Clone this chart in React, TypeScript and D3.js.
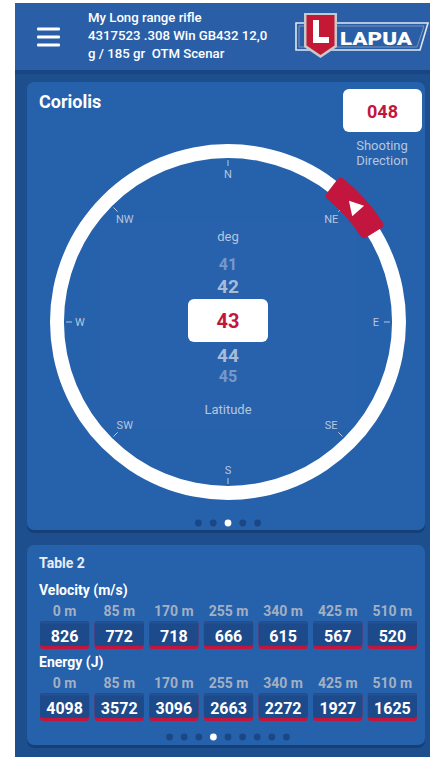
import { useEffect, useRef } from "react";
import * as d3 from "d3";

const rifleLines = ["My Long range rifle", "4317523 .308 Win GB432 12,0", "g / 185 gr  OTM Scenar"];
const compassPoints = ["N", "NE", "E", "SE", "S", "SW", "W", "NW"];
const compassBearings = [0, 45, 90, 135, 180, 225, 270, 315];
const shootingDirection = 48;
const latitudeValues = [41, 42, 43, 44, 45];
const selectedLatitude = 43;
const distances = ["0 m", "85 m", "170 m", "255 m", "340 m", "425 m", "510 m"];
const velocity = [826, 772, 718, 666, 615, 567, 520];
const energy = [4098, 3572, 3096, 2663, 2272, 1927, 1625];
const compassPageCount = 5;
const tablePageCount = 9;

const FONT = "Roboto, 'Noto Sans', sans-serif";
const screenBlue = "#1d4f8f";
const headerBlue = "#2a5fa8";
const cardBlue = "#2661ac";
const cellBlue = "#1d4a8a";
const red = "#c3163e";
const pale = "#b6c6dd";

export default function App() {
    const ref = useRef<SVGSVGElement>(null);

    useEffect(() => {
        const svg = d3.select(ref.current);
        svg.selectAll("*").remove();

        // screen + header
        svg.append("rect").attr("x", 15).attr("y", 3).attr("width", 415).attr("height", 754).attr("fill", screenBlue);
        svg.append("rect").attr("x", 15).attr("y", 70).attr("width", 415).attr("height", 4).attr("fill", "#184683");
        svg.append("rect").attr("x", 15).attr("y", 3).attr("width", 415).attr("height", 67).attr("fill", headerBlue);

        [29, 37, 45].forEach(y => {
            svg.append("rect").attr("x", 37).attr("y", y - 1.5).attr("width", 23).attr("height", 3)
                .attr("rx", 1).attr("fill", "#fff");
        });

        svg.append("g").selectAll("text").data(rifleLines).join("text")
            .attr("x", 88).attr("y", (d, i) => 22 + i * 18)
            .attr("fill", "#fff").attr("font-family", FONT).attr("font-size", 13.2).attr("font-weight", 500)
            .style("white-space", "pre")
            .text(d => d);

        // logo
        const logo = svg.append("g");
        logo.append("path").attr("d", "M296,23 L428,23 L420,50 L296,50 Z")
            .attr("fill", "none").attr("stroke", "#dfe6ef").attr("stroke-width", 1.6);
        logo.append("path").attr("d", "M299,26 L424,26 L417,47 L299,47 Z")
            .attr("fill", "none").attr("stroke", "#8ea3bf").attr("stroke-width", 0.8);
        logo.append("path").attr("d", "M304,13 L337,13 L337,47 L320.5,58 L304,47 Z")
            .attr("fill", "#c7c9cc");
        logo.append("path").attr("d", "M306.5,15 L334.5,15 L334.5,45.5 L320.5,55 L306.5,45.5 Z")
            .attr("fill", "#c41935");
        logo.append("path").attr("d", "M313,20 L319,20 L319,37 L329,37 L329,43 L313,43 Z").attr("fill", "#fff");
        logo.append("text").attr("x", 340).attr("y", 44.5)
            .attr("textLength", 72).attr("lengthAdjust", "spacingAndGlyphs")
            .attr("fill", "#fff").attr("font-family", FONT).attr("font-size", 19).attr("font-weight", 900)
            .text("LAPUA");

        // cards
        const cards = [{ y: 82, h: 448 }, { y: 545, h: 200 }];
        cards.forEach(c => {
            svg.append("rect").attr("x", 27).attr("y", c.y + 2).attr("width", 398).attr("height", c.h + 1)
                .attr("rx", 7).attr("fill", "#173f77");
            svg.append("rect").attr("x", 27).attr("y", c.y).attr("width", 398).attr("height", c.h)
                .attr("rx", 7).attr("fill", cardBlue);
        });

        // Coriolis card header
        svg.append("text").attr("x", 39).attr("y", 108).attr("fill", "#fff")
            .attr("font-family", FONT).attr("font-size", 18).attr("font-weight", 700).text("Coriolis");

        svg.append("rect").attr("x", 343).attr("y", 89).attr("width", 79).attr("height", 43).attr("rx", 6).attr("fill", "#fff");
        svg.append("text").attr("x", 382.5).attr("y", 117.5).attr("text-anchor", "middle").attr("fill", red)
            .attr("font-family", FONT).attr("font-size", 18).attr("font-weight", 700)
            .text(d3.format("03d")(shootingDirection));
        ["Shooting", "Direction"].forEach((t, i) => {
            svg.append("text").attr("x", 382).attr("y", 150 + i * 15).attr("text-anchor", "middle")
                .attr("fill", pale).attr("font-family", FONT).attr("font-size", 13).text(t);
        });

        // compass
        const cx = 228, cy = 322;
        const angle = d3.scaleLinear().domain([0, 360]).range([0, 2 * Math.PI]);
        const polar = (deg: number, r: number): [number, number] =>
            [cx + r * Math.sin(angle(deg)), cy - r * Math.cos(angle(deg))];
        const compass = svg.append("g");

        compass.append("rect").attr("x", 100).attr("y", 222).attr("width", 256).attr("height", 206)
            .attr("fill", "#2862ad");

        compass.append("path").attr("transform", `translate(${cx},${cy})`)
            .attr("d", d3.arc()({ innerRadius: 164, outerRadius: 178, startAngle: 0, endAngle: 2 * Math.PI }) as string)
            .attr("fill", "#fff");

        compassBearings.forEach((b, i) => {
            const [x1, y1] = polar(b, 156);
            const [x2, y2] = polar(b, 162);
            compass.append("line").attr("x1", x1).attr("y1", y1).attr("x2", x2).attr("y2", y2)
                .attr("stroke", pale).attr("stroke-width", 1);
            const [lx, ly] = polar(b, b % 90 === 0 ? 148 : 146);
            compass.append("text").attr("x", lx).attr("y", ly).attr("dy", "0.36em")
                .attr("text-anchor", "middle").attr("fill", pale)
                .attr("font-family", FONT).attr("font-size", 11).text(compassPoints[i]);
        });

        compass.append("path").attr("transform", `translate(${cx},${cy})`)
            .attr("d", d3.arc().cornerRadius(4)({
                innerRadius: 158, outerRadius: 184,
                startAngle: angle(shootingDirection - 10.5), endAngle: angle(shootingDirection + 10.5)
            }) as string)
            .attr("fill", red);
        const [mx, my] = polar(shootingDirection, 171);
        compass.append("path")
            .attr("transform", `translate(${mx},${my}) rotate(78)`)
            .attr("d", d3.symbol(d3.symbolTriangle, 110)() as string)
            .attr("fill", "#fff");

        // latitude picker
        compass.append("text").attr("x", cx).attr("y", 241).attr("text-anchor", "middle").attr("fill", pale)
            .attr("font-family", FONT).attr("font-size", 13).text("deg");
        const offset = d3.scaleLinear().domain([-2, -1, 0, 1, 2]).range([-56, -34, 0, 35, 56]);
        latitudeValues.forEach(v => {
            const d = v - selectedLatitude;
            if (d === 0) return;
            compass.append("text").attr("x", cx).attr("y", 320 + offset(d)).attr("dy", "0.36em")
                .attr("text-anchor", "middle").attr("fill", pale)
                .attr("opacity", Math.abs(d) === 1 ? 0.9 : 0.55)
                .attr("font-family", FONT).attr("font-weight", 700)
                .attr("font-size", Math.abs(d) === 1 ? 19 : 16)
                .text(v);
        });
        compass.append("rect").attr("x", 188).attr("y", 299).attr("width", 80).attr("height", 43)
            .attr("rx", 6).attr("fill", "#fff");
        compass.append("text").attr("x", cx).attr("y", 320.5).attr("dy", "0.36em").attr("text-anchor", "middle")
            .attr("fill", red).attr("font-family", FONT).attr("font-weight", 700).attr("font-size", 20)
            .text(selectedLatitude);
        compass.append("text").attr("x", cx).attr("y", 414).attr("text-anchor", "middle").attr("fill", pale)
            .attr("font-family", FONT).attr("font-size", 13).text("Latitude");

        // page dots
        const drawDots = (count: number, active: number, y: number, step: number) => {
            const x = d3.scaleLinear().domain([0, count - 1]).range([228 - step * (count - 1) / 2, 228 + step * (count - 1) / 2]);
            svg.append("g").selectAll("circle").data(d3.range(count)).join("circle")
                .attr("cx", d => x(d)).attr("cy", y).attr("r", 3.4)
                .attr("fill", d => d === active ? "#fff" : "#1b4785");
        };
        drawDots(compassPageCount, 2, 523, 14.8);
        drawDots(tablePageCount, 3, 737, 14.6);

        // table card
        svg.append("text").attr("x", 39).attr("y", 568).attr("fill", "#e8eef6")
            .attr("font-family", FONT).attr("font-size", 14).attr("font-weight", 700).text("Table 2");

        const xBand = d3.scaleBand().domain(distances).range([40, 417]).paddingInner(0.1).paddingOuter(0);
        const rows = [
            { title: "Velocity (m/s)", values: velocity, top: 595 },
            { title: "Energy (J)", values: energy, top: 667 },
        ];
        rows.forEach(row => {
            const g = svg.append("g");
            g.append("text").attr("x", 39).attr("y", row.top).attr("fill", "#fff")
                .attr("font-family", FONT).attr("font-size", 14).attr("font-weight", 700).text(row.title);
            distances.forEach((dist, i) => {
                const x = xBand(dist) as number;
                const w = xBand.bandwidth();
                g.append("text").attr("x", x + w / 2).attr("y", row.top + 20.5).attr("text-anchor", "middle")
                    .attr("fill", "#a3b0c2").attr("font-family", FONT).attr("font-size", 14).attr("font-weight", 700)
                    .text(dist);
                g.append("rect").attr("x", x).attr("y", row.top + 26).attr("width", w).attr("height", 28)
                    .attr("rx", 3).attr("fill", red);
                g.append("rect").attr("x", x).attr("y", row.top + 26).attr("width", w).attr("height", 25)
                    .attr("rx", 3).attr("fill", cellBlue);
                g.append("rect").attr("x", x + 0.5).attr("y", row.top + 26.5).attr("width", w - 1).attr("height", 2)
                    .attr("fill", "#2a5a9c").attr("opacity", 0.6);
                g.append("text").attr("x", x + w / 2).attr("y", row.top + 46.5).attr("text-anchor", "middle")
                    .attr("fill", "#fff").attr("font-family", FONT).attr("font-size", 16).attr("font-weight", 700)
                    .text(row.values[i]);
            });
        });
    }, []);

    return (
        <svg ref={ref} width={430} height={757}
            style={{ position: "absolute", left: 0, top: 0, display: "block", background: "#fff" }} />
    );
}
